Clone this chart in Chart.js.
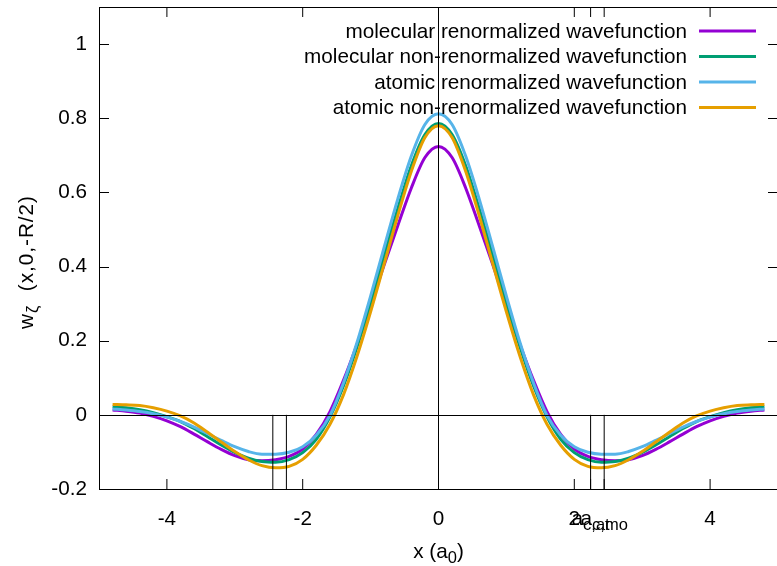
<!DOCTYPE html>
<html>
<head>
<meta charset="utf-8">
<script src="https://cdn.jsdelivr.net/npm/chart.js@4.4.1/dist/chart.umd.min.js"></script>
<style>
html, body { margin: 0; padding: 0; overflow: hidden; background: #fff; }
canvas { display: block; }
</style>
</head>
<body>
<canvas id="graph" width="790" height="566"></canvas>
<script>
// x positions (a0)
const xValues = [-4.8, -4.6, -4.4, -4.2, -4.0, -3.8, -3.6, -3.4, -3.2, -3.0, -2.8, -2.6, -2.4, -2.2, -2.0, -1.8, -1.6, -1.4, -1.2, -1.0, -0.8, -0.6, -0.4, -0.2,
	0.0, 0.2, 0.4, 0.6, 0.8, 1.0, 1.2, 1.4, 1.6, 1.8, 2.0, 2.2, 2.4, 2.6, 2.8, 3.0, 3.2, 3.4, 3.6, 3.8, 4.0, 4.2, 4.4, 4.6, 4.8];

const molRenorm = [0.013, 0.010, 0.005, -0.004, -0.016, -0.032, -0.052, -0.073, -0.093, -0.110, -0.121, -0.124, -0.121, -0.112, -0.092, -0.053, 0.008, 0.093, 0.190, 0.295, 0.405, 0.510, 0.612, 0.694,
	0.724, 0.694, 0.612, 0.510, 0.405, 0.295, 0.190, 0.093, 0.008, -0.053, -0.092, -0.112, -0.121, -0.124, -0.121, -0.110, -0.093, -0.073, -0.052, -0.032, -0.016, -0.004, 0.005, 0.010, 0.013];

const molNonRenorm = [0.022, 0.019, 0.014, 0.006, -0.005, -0.018, -0.037, -0.059, -0.081, -0.101, -0.117, -0.126, -0.128, -0.121, -0.102, -0.066, -0.006, 0.078, 0.183, 0.302, 0.430, 0.556, 0.672, 0.756,
	0.786, 0.756, 0.672, 0.556, 0.430, 0.302, 0.183, 0.078, -0.006, -0.066, -0.102, -0.121, -0.128, -0.126, -0.117, -0.101, -0.081, -0.059, -0.037, -0.018, -0.005, 0.006, 0.014, 0.019, 0.022];

const atRenorm = [0.016, 0.013, 0.009, 0.003, -0.006, -0.018, -0.033, -0.051, -0.069, -0.086, -0.099, -0.106, -0.106, -0.101, -0.086, -0.055, -0.002, 0.086, 0.195, 0.320, 0.452, 0.582, 0.698, 0.783,
	0.812, 0.783, 0.698, 0.582, 0.452, 0.320, 0.195, 0.086, -0.002, -0.055, -0.086, -0.101, -0.106, -0.106, -0.099, -0.086, -0.069, -0.051, -0.033, -0.018, -0.006, 0.003, 0.009, 0.013, 0.016];

const atNonRenorm = [0.028, 0.027, 0.025, 0.019, 0.010, -0.003, -0.022, -0.047, -0.073, -0.099, -0.121, -0.137, -0.143, -0.139, -0.120, -0.082, -0.026, 0.054, 0.158, 0.278, 0.407, 0.537, 0.657, 0.748,
	0.780, 0.748, 0.657, 0.537, 0.407, 0.278, 0.158, 0.054, -0.026, -0.082, -0.120, -0.139, -0.143, -0.137, -0.121, -0.099, -0.073, -0.047, -0.022, -0.003, 0.010, 0.019, 0.025, 0.027, 0.028];

const seriesNames = ['molecular renormalized wavefunction', 'molecular non-renormalized wavefunction',
	'atomic renormalized wavefunction', 'atomic non-renormalized wavefunction'];
const seriesColors = ['#9400d3', '#009e73', '#56b4e9', '#e69f00'];
const seriesData = [molRenorm, molNonRenorm, atRenorm, atNonRenorm];

const xTicks = [-4, -2, 0, 2, 4];
const xTickLabels = ['-4', '-2', '0', '2', '4'];
const yTicks = [-0.2, 0, 0.2, 0.4, 0.6, 0.8, 1];
const yTickLabels = ['-0.2', '0', '0.2', '0.4', '0.6', '0.8', '1'];

// cutoff radii
const aValues = [2.24, 2.44];
const aSubs = ['c,at', 'c,mo'];

const FAM = '"Liberation Sans", Arial, sans-serif';
const BIG = 20.7;
const SMALL = 16.5;

// text with subscripts; parts = [[text, isSub], ...], centred on x
function drawRich(ctx, parts, x, y, spacing) {
	const sp = spacing || 0;
	let w = 0;
	parts.forEach(p => {
		ctx.font = (p[1] ? SMALL : BIG) + 'px ' + FAM;
		for (const ch of p[0]) w += ctx.measureText(ch).width + sp;
	});
	let cx = x - w / 2;
	ctx.textAlign = 'left';
	ctx.textBaseline = 'middle';
	parts.forEach(p => {
		ctx.font = (p[1] ? SMALL : BIG) + 'px ' + FAM;
		for (const ch of p[0]) {
			ctx.fillText(ch, cx, p[1] ? y + 6 : y);
			cx += ctx.measureText(ch).width + sp;
		}
	});
}

const frame = {
	id: 'frame',
	afterDatasetsDraw(chart) {
		const ctx = chart.ctx;
		const xs = chart.scales.x, ys = chart.scales.y;
		const a = chart.chartArea;
		const y0 = ys.getPixelForValue(0);
		const x0 = xs.getPixelForValue(0);
		ctx.save();

		// zero axes
		ctx.strokeStyle = '#000';
		ctx.lineWidth = 1;
		ctx.beginPath();
		ctx.moveTo(a.left, Math.round(y0) + 0.5);
		ctx.lineTo(a.right, Math.round(y0) + 0.5);
		ctx.moveTo(x0, a.top);
		ctx.lineTo(x0, a.bottom);
		ctx.stroke();

		// cutoff lines
		ctx.beginPath();
		aValues.forEach(v => {
			[v, -v].forEach(s => {
				const px = xs.getPixelForValue(s);
				ctx.moveTo(px, y0);
				ctx.lineTo(px, ys.getPixelForValue(-0.2));
			});
		});
		ctx.stroke();

		// ticks, inward, mirrored
		ctx.beginPath();
		xTicks.concat(aValues).forEach(v => {
			const px = xs.getPixelForValue(v);
			ctx.moveTo(px, a.bottom);
			ctx.lineTo(px, a.bottom - 10);
			ctx.moveTo(px, a.top);
			ctx.lineTo(px, a.top + 10);
		});
		yTicks.forEach(v => {
			const py = Math.round(ys.getPixelForValue(v)) + 0.5;
			ctx.moveTo(a.left, py);
			ctx.lineTo(a.left + 10, py);
			ctx.moveTo(a.right, py);
			ctx.lineTo(a.right - 10, py);
		});
		ctx.stroke();

		// border
		ctx.strokeRect(Math.round(a.left) + 0.5, Math.round(a.top) + 0.5,
			Math.round(a.right - a.left), Math.round(a.bottom - a.top));

		// tick labels
		ctx.fillStyle = '#000';
		ctx.font = BIG + 'px ' + FAM;
		ctx.textBaseline = 'middle';
		ctx.textAlign = 'center';
		xTicks.forEach((v, i) => {
			ctx.fillText(xTickLabels[i], xs.getPixelForValue(v), 519);
		});
		aValues.forEach((v, i) => {
			drawRich(ctx, [['a', 0], [aSubs[i], 1]], xs.getPixelForValue(v), 519);
		});
		ctx.font = BIG + 'px ' + FAM;
		ctx.textAlign = 'right';
		yTicks.forEach((v, i) => {
			ctx.fillText(yTickLabels[i], 87, ys.getPixelForValue(v));
		});

		// axis titles
		drawRich(ctx, [['x (a', 0], ['0', 1], [')', 0]], x0, 552);
		ctx.translate(27, 262);
		ctx.rotate(-Math.PI / 2);
		drawRich(ctx, [['w', 0], ['ζ', 1], ['  (x,0,-R/2)', 0]], 0, 0, 1);
		ctx.setTransform(1, 0, 0, 1, 0, 0);

		// key
		ctx.font = BIG + 'px ' + FAM;
		ctx.textAlign = 'right';
		ctx.textBaseline = 'middle';
		ctx.lineWidth = 3;
		seriesNames.forEach((name, i) => {
			const ry = 31 + i * 25.5;
			ctx.fillStyle = '#000';
			ctx.fillText(name, 687, ry + 1);
			ctx.strokeStyle = seriesColors[i];
			ctx.beginPath();
			ctx.moveTo(699, ry);
			ctx.lineTo(756, ry);
			ctx.stroke();
		});
		ctx.restore();
	}
};

const ctx = document.getElementById('graph').getContext('2d');

const myChart = new Chart(ctx, {
	type: 'line',
	data: {
		datasets: seriesData.map((vals, i) => ({
			label: seriesNames[i],
			data: xValues.map((x, j) => ({ x: x, y: vals[j] })),
			borderColor: seriesColors[i],
			borderWidth: 3,
			pointRadius: 0,
			fill: false,
			cubicInterpolationMode: 'monotone',
			order: 4 - i
		}))
	},
	options: {
		responsive: false,
		animation: false,
		devicePixelRatio: 1,
		layout: {
			padding: { left: 99, top: 7, right: 12, bottom: 77 }
		},
		plugins: {
			legend: { display: false },
			tooltip: { enabled: false }
		},
		scales: {
			x: { type: 'linear', min: -5, max: 5, display: false },
			y: { type: 'linear', min: -0.2, max: 1.1, display: false }
		}
	},
	plugins: [frame]
});
</script>
</body>
</html>
